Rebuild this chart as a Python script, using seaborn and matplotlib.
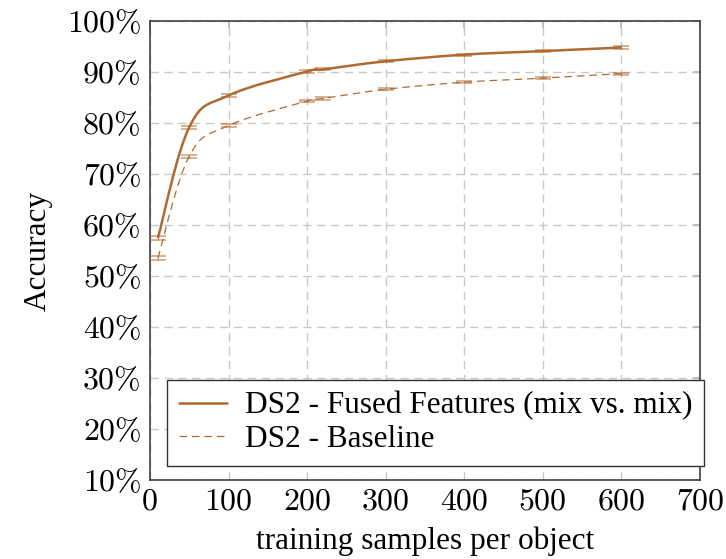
import numpy as np
import matplotlib
matplotlib.use("Agg")
import matplotlib.pyplot as plt
import seaborn as sns
from matplotlib.path import Path
from matplotlib.patches import PathPatch
from matplotlib.lines import Line2D

# ---- data ----
samples = [10, 50, 100, 200, 220, 300, 400, 500, 600]
fused = [57.4, 79.2, 85.4, 90.1, 90.5, 92.1, 93.4, 94.1, 94.8]
baseline = [53.5, 73.5, 79.5, 84.3, 84.8, 86.6, 88.0, 88.8, 89.7]
fused_err = [0.4, 0.3, 0.3, 0.2, 0.2, 0.2, 0.2, 0.2, 0.2]
base_err = [0.4, 0.3, 0.3, 0.2, 0.2, 0.2, 0.2, 0.2, 0.2]
labels = ["DS2 - Fused Features (mix vs. mix)", "DS2 - Baseline"]
xticks = [0, 100, 200, 300, 400, 500, 600, 700]
yticks = [10, 20, 30, 40, 50, 60, 70, 80, 90, 100]

sns.set_theme(style="white")
plt.rcParams['font.family'] = ['Liberation Serif', 'DejaVu Serif']
plt.rcParams['text.color'] = 'black'
plt.rcParams['axes.labelcolor'] = 'black'

color = "#b06a30"
fig = plt.figure(figsize=(7.26, 5.59), dpi=100)
ax = fig.add_axes([150/726, 1-480/559, 550/726, 459/559])


def smooth_path(xs, ys, k=0.18):
    pts = np.column_stack([xs, ys]).astype(float)
    n = len(pts)
    verts = [pts[0]]
    codes = [Path.MOVETO]
    for i in range(n - 1):
        p0 = pts[i - 1] if i > 0 else pts[i]
        p1, p2 = pts[i], pts[i + 1]
        p3 = pts[i + 2] if i + 2 < n else pts[i + 1]
        c1 = p1 + k * (p2 - p0)
        c2 = p2 - k * (p3 - p1)
        verts += [c1, c2, p2]
        codes += [Path.CURVE4] * 3
    return Path(verts, codes)


ax.add_patch(PathPatch(smooth_path(samples, fused), facecolor="none",
                       edgecolor=color, lw=1.8, zorder=3))
ax.add_patch(PathPatch(smooth_path(samples, baseline), facecolor="none",
                       edgecolor=color, lw=0.9, linestyle=(0, (6, 4)), zorder=3))

ax.errorbar(samples, fused, yerr=fused_err, fmt="none", ecolor=color,
            alpha=0.6, capsize=5.5, elinewidth=0.8, capthick=1.2, zorder=4)
ax.errorbar(samples, baseline, yerr=base_err, fmt="none", ecolor=color,
            alpha=0.6, capsize=5.5, elinewidth=0.8, capthick=1.2, zorder=4)

ax.set_xlim(0, 700)
ax.set_ylim(10, 100)
ax.set_xticks(xticks)
ax.set_yticks(yticks)
ax.set_xticklabels([str(v) for v in xticks], fontfamily="cmr10", fontsize=23)
ax.set_yticklabels([f"{v}%" for v in yticks], fontfamily="cmr10", fontsize=23)
ax.tick_params(axis="both", direction="in", length=5, color="#b8b8b8",
               labelcolor="black", top=True, right=True, pad=6)
ax.grid(True, color="#c8c8c8", linestyle=(0, (6, 4)), linewidth=1.0)
for s in ax.spines.values():
    s.set_color("#404040")
    s.set_linewidth(1.2)

ax.set_xlabel("training samples per object", fontsize=22.5, labelpad=8)
ax.set_ylabel("Accuracy", fontsize=22.5, labelpad=10)

handles = [Line2D([], [], color=color, lw=1.8),
           Line2D([], [], color=color, lw=0.9, linestyle=(0, (6, 4)))]
leg = ax.legend(handles, labels, loc="lower left", bbox_to_anchor=(0.031, 0.03),
                borderaxespad=0, fontsize=22.5, frameon=True, fancybox=False,
                handlelength=1.55, handletextpad=0.55, labelspacing=0.15,
                borderpad=0.38)
leg.get_frame().set_edgecolor("#303030")
leg.get_frame().set_linewidth(1.0)
leg.get_frame().set_alpha(1)

fig.savefig("out.png", dpi=100)
